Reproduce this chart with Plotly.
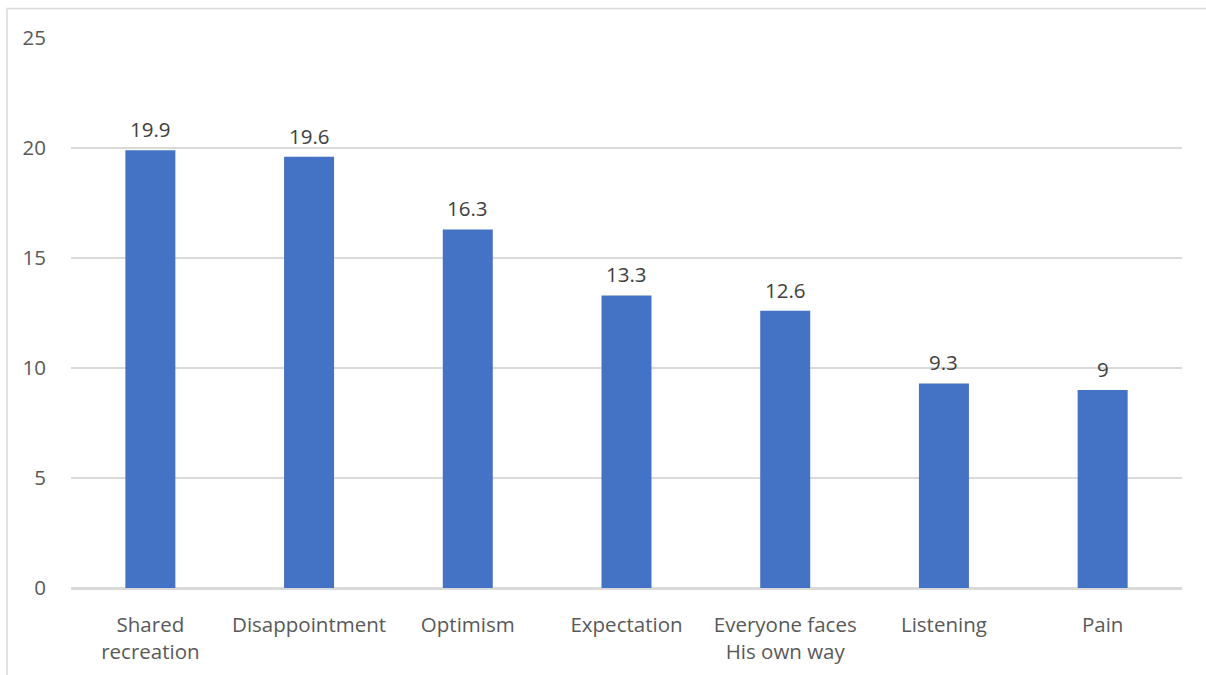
import plotly.graph_objects as go

categories = ["Shared<br>recreation", "Disappointment", "Optimism", "Expectation",
              "Everyone faces<br>His own way", "Listening", "Pain"]
values = [19.9, 19.6, 16.3, 13.3, 12.6, 9.3, 9]
value_labels = ["19.9", "19.6", "16.3", "13.3", "12.6", "9.3", "9"]
y_ticks = [0, 5, 10, 15, 20, 25]

FONT = "Open Sans, Calibri, sans-serif"
BAR_COLOR = "#4472C4"
GRID = "#d9d9d9"
FS = 20.5

fig = go.Figure(
    go.Bar(
        x=categories,
        y=values,
        marker=dict(color=BAR_COLOR, line=dict(width=0)),
        width=0.315,
        hoverinfo="skip",
    )
)

# value labels above each bar
for cat, val, lab in zip(categories, values, value_labels):
    fig.add_annotation(
        x=cat, y=val, text=lab, showarrow=False,
        yanchor="bottom", yshift=5,
        font=dict(family=FONT, size=FS, color="#404040"),
    )

W, H = 1206, 675
L, R, T, B = 71, 24, 37.5, 87
pw = W - L - R
ph = H - T - B

# chart outline (left and top edges visible, rest runs off the page)
fig.add_shape(
    type="rect", xref="paper", yref="paper",
    x0=(7 - L) / pw, x1=(W + 20 - L) / pw,
    y0=-(H + 20 - T - ph) / ph, y1=1 + (T - 8) / ph,
    line=dict(color="#d9d9d9", width=1.5), fillcolor="rgba(0,0,0,0)",
    layer="below",
)

fig.update_layout(
    width=W, height=H,
    margin=dict(l=L, r=R, t=T, b=B, pad=0, autoexpand=False),
    paper_bgcolor="white", plot_bgcolor="white",
    showlegend=False,
    font=dict(family=FONT, size=FS, color="#595959"),
    bargap=0.685,
    xaxis=dict(
        showgrid=False, showline=True, linecolor=GRID, linewidth=1.6,
        ticks="", ticklabelstandoff=18, automargin=False,
        tickfont=dict(family=FONT, size=FS, color="#595959"),
        fixedrange=True,
    ),
    yaxis=dict(
        range=[0, 25], tickvals=y_ticks, ticktext=[str(t) for t in y_ticks],
        showgrid=True, gridcolor=GRID, gridwidth=1.6,
        zeroline=True, zerolinecolor=GRID, zerolinewidth=1.6,
        showline=False, ticks="", ticklabelstandoff=24, automargin=False,
        tickfont=dict(family=FONT, size=FS, color="#595959"),
        fixedrange=True,
    ),
)

fig.write_html("out.html")
